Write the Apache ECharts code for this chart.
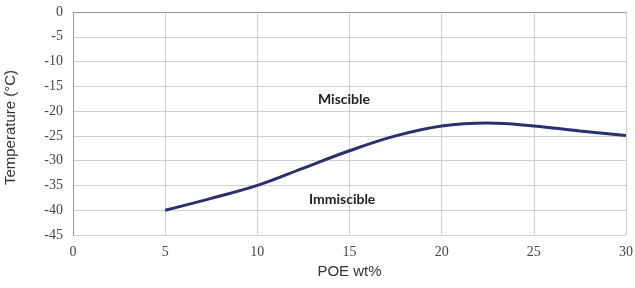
<!DOCTYPE html>
<html>
<head>
<meta charset="utf-8">
<script src="https://cdn.jsdelivr.net/npm/echarts@6/dist/echarts.min.js"></script>
<style>
  html, body { margin: 0; padding: 0; background: #fff; }
  #chart { width: 635px; height: 288px; }
</style>
</head>
<body>
<div id="chart"></div>
<script>
// POE wt% vs miscibility temperature
const poeWt = [5, 7.5, 10, 12.5, 15, 17.5, 20, 22.5, 25, 27.5, 30];
const tempC = [-40, -37.6, -35, -31.5, -28, -25, -23, -22.4, -23.0, -24.0, -24.9];

// region labels (data coords)
const regionNames = ['Miscible', 'Immiscible'];
const regionX = [14.7, 14.6];
const regionY = [-17.6, -37.9];

const chart = echarts.init(document.getElementById('chart'));

const serif = '"Liberation Serif", "DejaVu Serif", serif';
const sans = '"Liberation Sans", Arial, sans-serif';

chart.setOption({
  animation: false,
  grid: { left: 73, right: 9, top: 12, bottom: 53, outerBoundsMode: 'none', containLabel: false },
  xAxis: {
    type: 'value',
    min: 0,
    max: 30,
    interval: 5,
    name: 'POE wt%',
    nameLocation: 'middle',
    nameGap: 29,
    nameTextStyle: { fontFamily: sans, fontSize: 15, color: '#333' },
    axisLine: { lineStyle: { color: '#999', width: 1 } },
    axisTick: { show: false },
    axisLabel: { fontFamily: serif, fontSize: 14, color: '#444', margin: 10 },
    splitLine: { lineStyle: { color: '#cfcfcf', width: 1 } }
  },
  yAxis: {
    type: 'value',
    min: -45,
    max: 0,
    interval: 5,
    name: 'Temperature (°C)',
    nameLocation: 'middle',
    nameGap: 55,
    nameTextStyle: { fontFamily: sans, fontSize: 15, color: '#333', padding: [0, 8, 0, 0] },
    axisLine: { show: true, lineStyle: { color: '#999', width: 1 } },
    axisTick: { show: false },
    axisLabel: { fontFamily: serif, fontSize: 14, color: '#444', margin: 10 },
    splitLine: { lineStyle: { color: '#cfcfcf', width: 1 } }
  },
  series: [{
    type: 'line',
    data: poeWt.map((x, i) => [x, tempC[i]]),
    smooth: 0.4,
    showSymbol: false,
    lineStyle: { color: '#28306f', width: 3 },
    markPoint: {
      symbol: 'circle',
      symbolSize: 1,
      itemStyle: { color: 'rgba(0,0,0,0)' },
      label: {
        show: true,
        position: 'inside',
        formatter: p => p.name,
        fontFamily: '"Lato", "Open Sans", sans-serif',
        fontWeight: 'bold',
        fontSize: 14,
        color: '#222'
      },
      data: regionNames.map((n, i) => ({ name: n, coord: [regionX[i], regionY[i]] }))
    }
  }]
});
</script>
</body>
</html>
